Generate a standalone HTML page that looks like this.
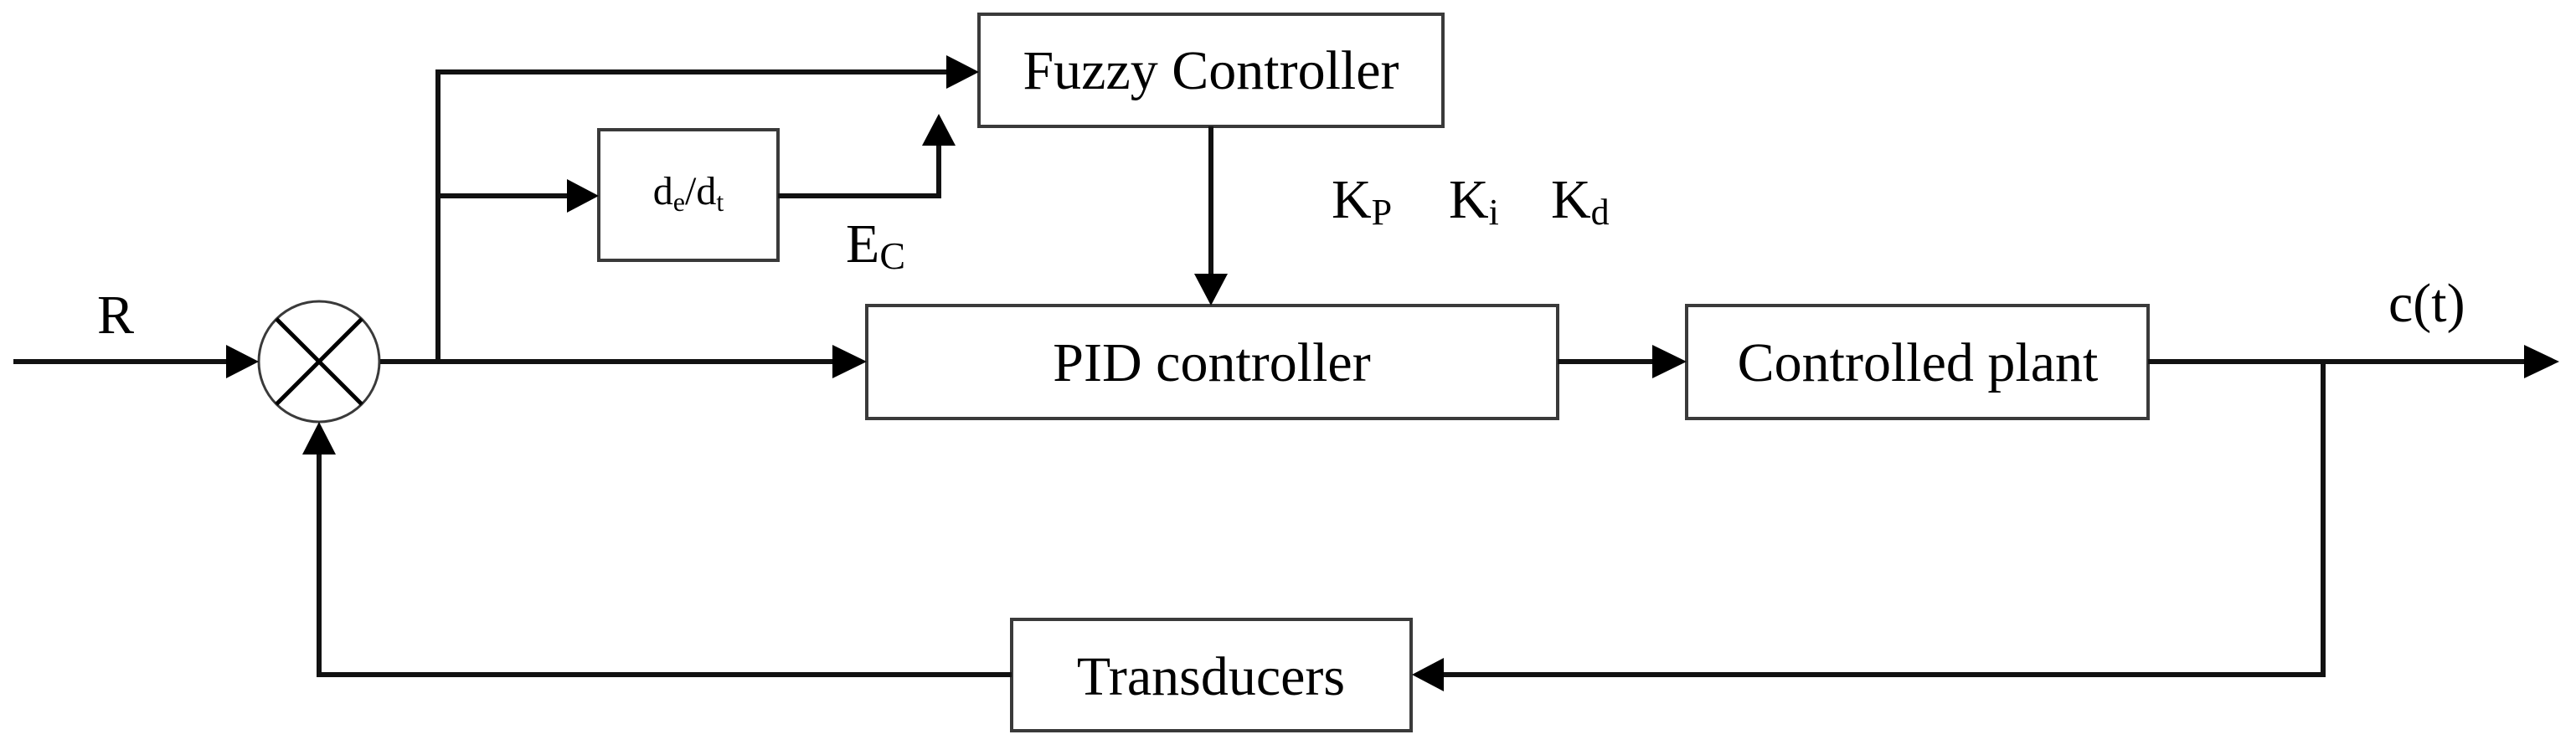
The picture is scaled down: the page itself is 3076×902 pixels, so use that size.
<!DOCTYPE html>
<html><head><meta charset="utf-8"><style>
html,body{margin:0;padding:0;background:#fff;}
svg{display:block;}
text{font-family:"Liberation Serif",serif;fill:#000;}
</style></head><body>
<svg width="3076" height="902" viewBox="0 0 3076 902" xmlns="http://www.w3.org/2000/svg">
<defs>
<marker id="a" markerWidth="8" markerHeight="8" refX="7" refY="4" orient="auto" markerUnits="userSpaceOnUse" viewBox="0 0 8 8"><path d="M0,0 L8,4 L0,8 z" fill="#000"/></marker>
</defs>
<g fill="none" stroke="#3a3a3a" stroke-width="4">
<rect x="1169" y="17" width="554" height="134"/>
<rect x="715" y="155" width="214" height="156"/>
<rect x="1035" y="365" width="825" height="135"/>
<rect x="2014" y="365" width="551" height="135"/>
<rect x="1208" y="740" width="477" height="133"/>
<ellipse cx="381" cy="432" rx="72" ry="72" stroke-width="3"/>
<line x1="330" y1="381" x2="432" y2="483" stroke="#000" stroke-width="5"/>
<line x1="432" y1="381" x2="330" y2="483" stroke="#000" stroke-width="5"/>
</g>
<g fill="none" stroke="#111" stroke-width="6">
<line x1="16" y1="432" x2="275" y2="432"/>
<line x1="454" y1="432" x2="996" y2="432"/>
<polyline points="523,432 523,86 1135,86"/>
<line x1="523" y1="234" x2="678" y2="234"/>
<polyline points="929,234 1121,234 1121,174"/>
<line x1="1446" y1="151" x2="1446" y2="328"/>
<line x1="1860" y1="432" x2="1975" y2="432"/>
<line x1="2565" y1="432" x2="3016" y2="432"/>
<polyline points="2774,432 2774,806 1722,806"/>
<polyline points="1208,806 381,806 381,543"/>
</g>
<g fill="#000">
<path d="M270,412 L309,432 L270,452 z"/>
<path d="M994,412 L1035,432 L994,452 z"/>
<path d="M1130,66 L1169,86 L1130,106 z"/>
<path d="M677,214 L715,234 L677,254 z"/>
<path d="M1101,174 L1121,136 L1141,174 z"/>
<path d="M1426,327 L1446,365 L1466,327 z"/>
<path d="M1973,412 L2014,432 L1973,452 z"/>
<path d="M3014,412 L3056,432 L3014,452 z"/>
<path d="M1724,786 L1686,806 L1724,826 z"/>
<path d="M361,543 L381,504 L401,543 z"/>
</g>
<g font-size="66">
<text x="1446" y="106" text-anchor="middle">Fuzzy Controller</text>
<text x="1447" y="455" text-anchor="middle">PID controller</text>
<text x="2290" y="455" text-anchor="middle">Controlled plant</text>
<text x="1446" y="830" text-anchor="middle">Transducers</text>
<text x="116" y="398">R</text>
<text x="2852" y="384">c(t)</text>
<text x="1010" y="313">E<tspan font-size="46" dy="8">C</tspan></text>
<text x="1590" y="260">K<tspan font-size="44" dy="8">P</tspan></text>
<text x="1730" y="260">K<tspan font-size="44" dy="8">i</tspan></text>
<text x="1852" y="260">K<tspan font-size="44" dy="8">d</tspan></text>
</g>
<text x="822" y="244" text-anchor="middle" font-size="48">d<tspan font-size="32" dy="8">e</tspan><tspan dy="-8">/d</tspan><tspan font-size="32" dy="8">t</tspan></text>
</svg>
</body></html>
